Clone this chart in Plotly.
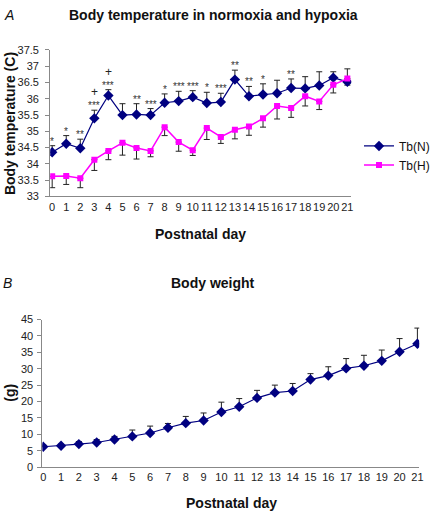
import plotly.graph_objects as go

days = list(range(22))

# Body temperature, normoxia
tb_n = [34.36, 34.62, 34.48, 35.4, 36.1, 35.5, 35.52, 35.5, 35.88, 35.93, 36.05, 35.87,
        35.9, 36.59, 36.08, 36.13, 36.17, 36.33, 36.32, 36.41, 36.65, 36.52]
tb_n_err_up = [0.2, 0.25, 0.28, 0.25, 0.18, 0.35, 0.33, 0.2, 0.27, 0.3, 0.2, 0.33,
               0.27, 0.29, 0.3, 0.33, 0.4, 0.28, 0.36, 0.42, 0.18, 0.0]
tb_n_err_down = [0]*21 + [0.1]

# Body temperature, hypoxia
tb_h = [33.62, 33.63, 33.56, 34.13, 34.4, 34.65, 34.49, 34.4, 35.13, 34.67, 34.42, 35.1,
        34.83, 35.05, 35.15, 35.4, 35.78, 35.72, 36.08, 35.92, 36.43, 36.62]
tb_h_err_down = [0.35, 0.26, 0.29, 0.33, 0.27, 0.38, 0.34, 0.18, 0.26, 0.28, 0.16, 0.35,
                 0.2, 0.28, 0.27, 0.27, 0.4, 0.29, 0.3, 0.25, 0.25, 0.0]
tb_h_err_up = [0]*21 + [0.3]

stars = ['*', '*', '**', '***', '***', '', '**', '***', '*', '***', '***', '*',
         '***', '**', '**', '*', '', '**', '', '', '', '']
plus = ['', '', '', '+', '+'] + ['']*17

# Body weight
weight = [6.2, 6.5, 7.0, 7.5, 8.4, 9.35, 10.4, 12.0, 13.4, 14.2, 16.8, 18.4,
          21.1, 22.7, 23.2, 26.7, 27.9, 30.1, 30.9, 32.4, 35.2, 37.6]
weight_err = [0.5, 0.5, 0.8, 0.9, 0.95, 1.95, 2.1, 1.3, 2.05, 2.3, 3.0, 2.5,
              2.3, 2.3, 2.3, 1.8, 2.7, 3.0, 3.2, 3.3, 4.0, 4.8]

NAVY = '#000080'
MAG = '#FF00FF'
FONT = 'Liberation Sans, Arial, sans-serif'

fig = go.Figure()

fig.add_trace(go.Scatter(
    x=days, y=tb_n, name='Tb(N)', mode='lines+markers',
    line=dict(color=NAVY, width=1.2),
    marker=dict(symbol='diamond', size=8, color=NAVY),
    error_y=dict(type='data', symmetric=False, array=tb_n_err_up, arrayminus=tb_n_err_down,
                 color='#222', thickness=1, width=3),
    xaxis='x', yaxis='y'))

fig.add_trace(go.Scatter(
    x=days, y=tb_h, name='Tb(H)', mode='lines+markers',
    line=dict(color=MAG, width=1.5),
    marker=dict(symbol='square', size=6, color=MAG),
    error_y=dict(type='data', symmetric=False, array=tb_h_err_up, arrayminus=tb_h_err_down,
                 color='#222', thickness=1, width=3),
    xaxis='x', yaxis='y'))

fig.add_trace(go.Scatter(
    x=days, y=weight, name='Body weight', mode='lines+markers', showlegend=False,
    line=dict(color=NAVY, width=1.2),
    marker=dict(symbol='diamond', size=8, color=NAVY),
    error_y=dict(type='data', array=weight_err, arrayminus=[0]*22, symmetric=False,
                 color='#222', thickness=1, width=3),
    xaxis='x2', yaxis='y2'))

W, H = 435, 518
def px(x):
    return x / W
def py(y):
    return 1 - y / H

axis_common = dict(showgrid=False, zeroline=False, showline=True, linecolor='#888',
                   linewidth=1, tickfont=dict(family=FONT, size=11, color='#222'))

annotations = []
for d, s, p, v, e in zip(days, stars, plus, tb_n, tb_n_err_up):
    if s:
        annotations.append(dict(x=d, y=v + e, xref='x', yref='y', text=s, showarrow=False,
                                yanchor='bottom', yshift=-3,
                                font=dict(family=FONT, size=10, color='#333')))
    if p:
        annotations.append(dict(x=d, y=v + e, xref='x', yref='y', text=p, showarrow=False,
                                yanchor='bottom', yshift=9,
                                font=dict(family=FONT, size=12, color='#222')))

def txt(x, y, t, size, bold=False, italic=False, angle=0):
    if bold:
        t = '<b>' + t + '</b>'
    if italic:
        t = '<i>' + t + '</i>'
    return dict(x=px(x), y=py(y), xref='paper', yref='paper', text=t, showarrow=False,
                xanchor='center', yanchor='middle', textangle=angle,
                font=dict(family=FONT, size=size, color='#111'))

annotations += [
    txt(7, 9, 'A', 14, italic=True),
    txt(215, 9, 'Body temperature in normoxia and hypoxia', 14, bold=True),
    txt(8, 120, 'Body temperature (C)', 14, bold=True, angle=-90),
    txt(202, 233, 'Postnatal day', 14, bold=True),
    txt(6, 284, 'B', 14, italic=True),
    txt(214, 284, 'Body weight', 14, bold=True),
    txt(8, 396, '(g)', 14, bold=True, angle=-90),
    txt(233, 509, 'Postnatal day', 14, bold=True),
]

fig.update_layout(
    width=W, height=H, margin=dict(l=0, r=0, t=0, b=0),
    paper_bgcolor='white', plot_bgcolor='white',
    font=dict(family=FONT, color='#222'),
    xaxis=dict(domain=[px(49), px(355)], range=[-0.14, 21.28], tickmode='linear', dtick=1,
               ticks='', tickangle=0, anchor='y', **axis_common),
    yaxis=dict(domain=[py(195), py(45)], range=[33, 37.5], dtick=0.5, ticks='outside',
               ticklen=4, tickcolor='#888', anchor='x', ticklabelstandoff=4, **axis_common),
    xaxis2=dict(domain=[px(41), px(424)], range=[-0.05, 21.1], tickmode='linear', dtick=1,
                ticks='', tickangle=0, anchor='y2', **axis_common),
    yaxis2=dict(domain=[py(472), py(321)], range=[0, 45], dtick=5, ticks='outside',
                ticklen=4, tickcolor='#888', anchor='x2', ticklabelstandoff=2, **axis_common),
    legend=dict(x=px(363), y=py(153), xanchor='left', yanchor='middle',
                font=dict(family=FONT, size=12, color='#111'), bgcolor='rgba(0,0,0,0)',
                itemwidth=30, tracegroupgap=0),
    annotations=annotations,
)

fig.write_html('out.html', config={'displayModeBar': False},
               post_script="document.body.style.margin='0';document.body.style.overflow='hidden';")
